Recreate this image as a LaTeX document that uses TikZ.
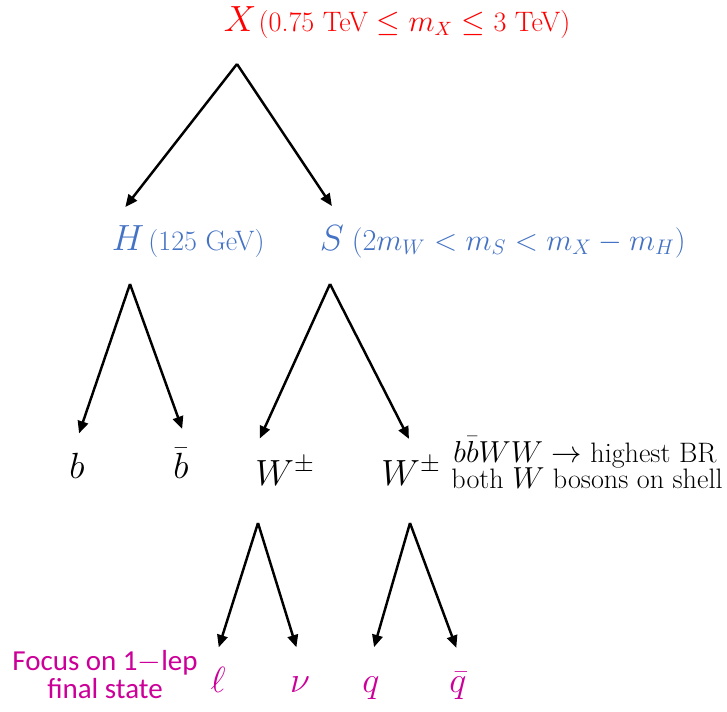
\documentclass[tikz,border=0pt]{standalone}
\usepackage{amsmath}
\usepackage{fontspec}
\newfontfamily\calfont{Carlito}
\usetikzlibrary{arrows.meta,positioning}
\definecolor{xred}{HTML}{FF0000}
\definecolor{bosonblue}{HTML}{4472C4}
\definecolor{leptmag}{HTML}{CC0099}

\begin{document}
\begin{tikzpicture}[x=0.02cm,y=-0.02cm,
 part/.style={inner sep=0pt,anchor=base,font=\fontsize{21}{24}\selectfont},
 mass/.style={inner sep=0pt,anchor=base west,font=\fontsize{16}{18}\selectfont},
 note/.style={inner sep=0pt,anchor=base,font=\fontsize{16}{18}\selectfont},
 decay/.style={-{Triangle[length=7pt,width=6pt]},line width=1.4pt,shorten >=0.4cm}]
\useasboundingbox (0,0) rectangle (727,711);
% resonance X
\node[part,text=xred] (X) at (240,31) {$X$};
\node[mass,text=xred,right=1pt of X.base east,anchor=base west] (Xm) {(0.75 TeV $\leq m_X \leq$ 3 TeV)};
\coordinate (Xsplit) at (237,64);
% H and S
\node[part,text=bosonblue] (H) at (128,250) {$H$};
\node[mass,text=bosonblue,right=2pt of H.base east,anchor=base west] (Hm) {(125 GeV)};
\node[part,text=bosonblue] (S) at (332,250) {$S$};
\node[mass,text=bosonblue,right=4pt of S.base east,anchor=base west,font=\fontsize{17.5}{20}\selectfont] (Sm) {$(2m_W < m_S < m_X - m_H)$};
\coordinate (Hsplit) at (130,284);
\coordinate (Ssplit) at (330,284);
\draw[decay,shorten >=0.45cm] (Xsplit) -- (H.north west);
\draw[decay,shorten >=0.45cm] (Xsplit) -- (S.north east);
% b bbar and W W
\node[part] (b) at (77,478) {$b$};
\node[part] (bb) at (181,478) {$\bar{b}$};
\node[part] (W1) at (285,485) {$W^{\pm}$};
\node[part] (W2) at (411,485) {$W^{\pm}$};
\draw[decay] (Hsplit) -- ([xshift=2pt]b.north west);
\draw[decay] (Hsplit) -- (bb.north east);
\draw[decay] (Ssplit) -- ([xshift=-2pt]W1.north west);
\draw[decay] (Ssplit) -- ([xshift=4pt]W2.north);
\node[note] (BR) at (585,462) {$b\bar{b}WW \rightarrow$ highest BR};
\node[note] (shell) at (587,488) {both $W$ bosons on shell};
% leptons and quarks
\coordinate (W1split) at (258,523);
\coordinate (W2split) at (410,523);
\node[part,text=leptmag] (l) at (218,692) {$\ell$};
\node[part,text=leptmag] (nu) at (300,692) {$\nu$};
\node[part,text=leptmag] (q) at (371,692) {$q$};
\node[part,text=leptmag] (qb) at (458,692) {$\bar{q}$};
\draw[decay] (W1split) -- ([xshift=-3pt]l.north);
\draw[decay,shorten >=0.6cm] (W1split) -- ([xshift=3pt]nu.north);
\draw[decay,shorten >=0.6cm] (W2split) -- ([xshift=-3pt]q.north);
\draw[decay,shorten >=0.5cm] (W2split) -- ([xshift=4pt]qb.north);
\node[text=leptmag,align=center,inner sep=0pt,anchor=base,font=\calfont\fontsize{16.5}{15.5}\selectfont] (focus) at (105,698) {Focus on 1$-$lep\\final state};
\end{tikzpicture}
\end{document}
